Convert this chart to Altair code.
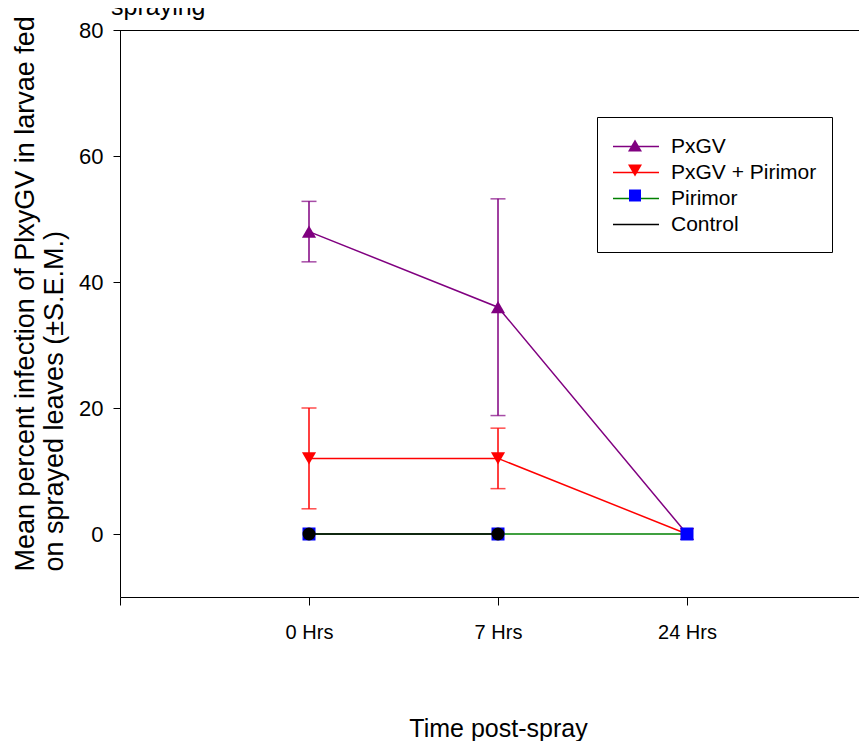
import altair as alt
import pandas as pd

FONT = "Liberation Sans"

# ---- data ----
series = ["PxGV", "PxGV + Pirimor", "Pirimor", "Control"]
line_colors = ["#800080", "#ff0000", "#008000", "#000000"]
marker_colors = ["#800080", "#ff0000", "#0000ff", "#000000"]
marker_shapes = ["triangle-up", "triangle-down", "square", "circle"]
marker_sizes = [200, 200, 169, 169]

time_labels = ["0 Hrs", "7 Hrs", "24 Hrs"]
time_index = [0, 1, 2]

pxgv_mean = [48.0, 36.0, 0.0]
pxgv_sem = [4.8, 17.2, 0.0]
pxgv_pirimor_mean = [12.0, 12.0, 0.0]
pxgv_pirimor_sem = [8.0, 4.8, 0.0]
pirimor_mean = [0.0, 0.0, 0.0]
pirimor_sem = [0.0, 0.0, 0.0]
control_mean = [0.0, 0.0]  # only 0 and 7 Hrs
control_sem = [0.0, 0.0]

y_ticks = [0, 20, 40, 60, 80]
y_title = ["Mean percent infection of PlxyGV in larvae fed",
           "on sprayed leaves (\u00b1S.E.M.)"]
x_title = "Time post-spray"
chart_title = "spraying"

means = dict(zip(series, [pxgv_mean, pxgv_pirimor_mean, pirimor_mean, control_mean]))
sems = dict(zip(series, [pxgv_sem, pxgv_pirimor_sem, pirimor_sem, control_sem]))

rows = []
for s in series:
    for i, m in enumerate(means[s]):
        e = sems[s][i]
        rows.append(dict(series=s, t=time_index[i], label=time_labels[i],
                         mean=m, lo=m - e, hi=m + e, sem=e))
df = pd.DataFrame(rows)

# ---- scales / axes ----
PLOT_W = 739
PLOT_H = 567
X_MAX = -1 + PLOT_W / 189.0
x_scale = alt.Scale(domain=[-1, X_MAX], nice=False, zero=False)
y_scale = alt.Scale(domain=[-10, 80], nice=False, zero=False)

label_expr = "".join(f"datum.value == {i} ? '{lab}' : " for i, lab in zip(time_index, time_labels)) + "''"

x_axis = alt.Axis(values=[-1] + time_index, labelExpr=label_expr, title=x_title, grid=False,
                  tickSize=8, labelPadding=33, labelBaseline="alphabetic",
                  labelFontSize=20, labelFont=FONT, labelColor="black",
                  labelFlush=False, labelOverlap=False,
                  titleFont=FONT, titleFontSize=25, titleFontWeight="normal", titleColor="black",
                  titleBaseline="alphabetic", titleX=378, titleY=139,
                  domainColor="black", tickColor="black")
y_axis = alt.Axis(values=y_ticks, title=y_title, grid=False, tickSize=7, labelPadding=10,
                  labelFontSize=22, labelFont=FONT, labelColor="black",
                  titleFont=FONT, titleFontSize=27, titleFontWeight="normal", titleColor="black",
                  titleAngle=270, titleAlign="left", titleBaseline="alphabetic",
                  titleX=-87, titleY=541, titleLineHeight=29,
                  domainColor="black", tickColor="black")


def X():
    return alt.X("t:Q", scale=x_scale, axis=x_axis)


def Y(f):
    return alt.Y(f"{f}:Q", scale=y_scale, axis=y_axis)


layers = []
for s, lc, mc, shp, sz in zip(series, line_colors, marker_colors, marker_shapes, marker_sizes):
    base = alt.Chart(df).transform_filter(alt.datum.series == s)
    err = base.transform_filter("datum.sem > 0")
    layers.append(err.mark_rule(color=lc, strokeWidth=1.5).encode(x=X(), y=Y("lo"), y2="hi"))
    layers.append(err.mark_tick(color=lc, orient="horizontal", size=15, thickness=1.5)
                  .encode(x=X(), y=Y("lo")))
    layers.append(err.mark_tick(color=lc, orient="horizontal", size=15, thickness=1.5)
                  .encode(x=X(), y=Y("hi")))
    layers.append(base.mark_line(color=lc, strokeWidth=1.5).encode(x=X(), y=Y("mean"), order="t:Q"))
    layers.append(base.mark_point(shape=shp, filled=True, size=sz, color=mc, opacity=1)
                  .encode(x=X(), y=Y("mean")))

# top frame line
frame = alt.Chart(pd.DataFrame({"a": [0]})).mark_rule(color="black", strokeWidth=1, yOffset=0.5).encode(
    x=alt.XDatum(-1, type="quantitative", scale=x_scale, axis=x_axis),
    x2=alt.X2Datum(X_MAX),
    y=alt.YDatum(80, type="quantitative", scale=y_scale, axis=y_axis),
)

# ---- legend (line part + marker part overlaid) ----
common = dict(title=None, orient="none", legendX=477, legendY=87, padding=15,
              labelFont=FONT, labelFontSize=21, labelColor="black", labelLimit=400,
              symbolSize=729, labelOffset=30, rowPadding=1, symbolOpacity=1)
line_paths = ["M-1,0H2.407", "M-1,0H2.407", "M-1,0H2.407", "M-1,0H2.407M0,0.7L0,0.7"]
marker_paths = ["M0.7037,-0.444L1.222,0.444L0.185,0.444Z",
                "M0.7037,0.444L1.222,-0.444L0.185,-0.444Z",
                "M0.26,-0.444H1.148V0.444H0.26Z",
                "M0,0"]
leg_df = pd.DataFrame({"series": series, "t": [0] * 4, "mean": [0.0] * 4})
lleg = alt.Legend(**common, strokeColor="black", fillColor="white", symbolStrokeWidth=1.5)
line_leg = alt.Chart(leg_df).transform_filter("false").mark_point(filled=False, opacity=1).encode(
    x=X(), y=Y("mean"),
    stroke=alt.Stroke("series:N", scale=alt.Scale(domain=series, range=line_colors), legend=lleg),
    shape=alt.Shape("series:N", scale=alt.Scale(domain=series, range=line_paths), legend=lleg),
)
mleg = alt.Legend(**common, labelOpacity=0, symbolStrokeWidth=0)
mark_leg = alt.Chart(leg_df).transform_filter("false").mark_point(filled=True, opacity=1).encode(
    x=X(), y=Y("mean"),
    fill=alt.Fill("series:N", scale=alt.Scale(domain=series, range=marker_colors), legend=mleg),
    shape=alt.Shape("series:N", scale=alt.Scale(domain=series, range=marker_paths), legend=mleg),
)

chart = alt.layer(*layers, frame, line_leg, mark_leg).resolve_scale(
    shape="independent"
).resolve_legend(
    stroke="independent", fill="independent", shape="independent"
).properties(
    width=PLOT_W, height=PLOT_H,
    padding={"left": 112, "top": 22, "right": 0, "bottom": 144},
    autosize=alt.AutoSizeParams(type="none"),
    title=alt.TitleParams(chart_title, anchor="start", frame="group", fontSize=25, font=FONT,
                          fontWeight="normal", color="black", offset=0, dx=-9, dy=4),
).configure_view(stroke=None).configure_axis(domainWidth=1, tickWidth=1)

chart.save("out.html", embed_options={"renderer": "svg", "actions": False})
